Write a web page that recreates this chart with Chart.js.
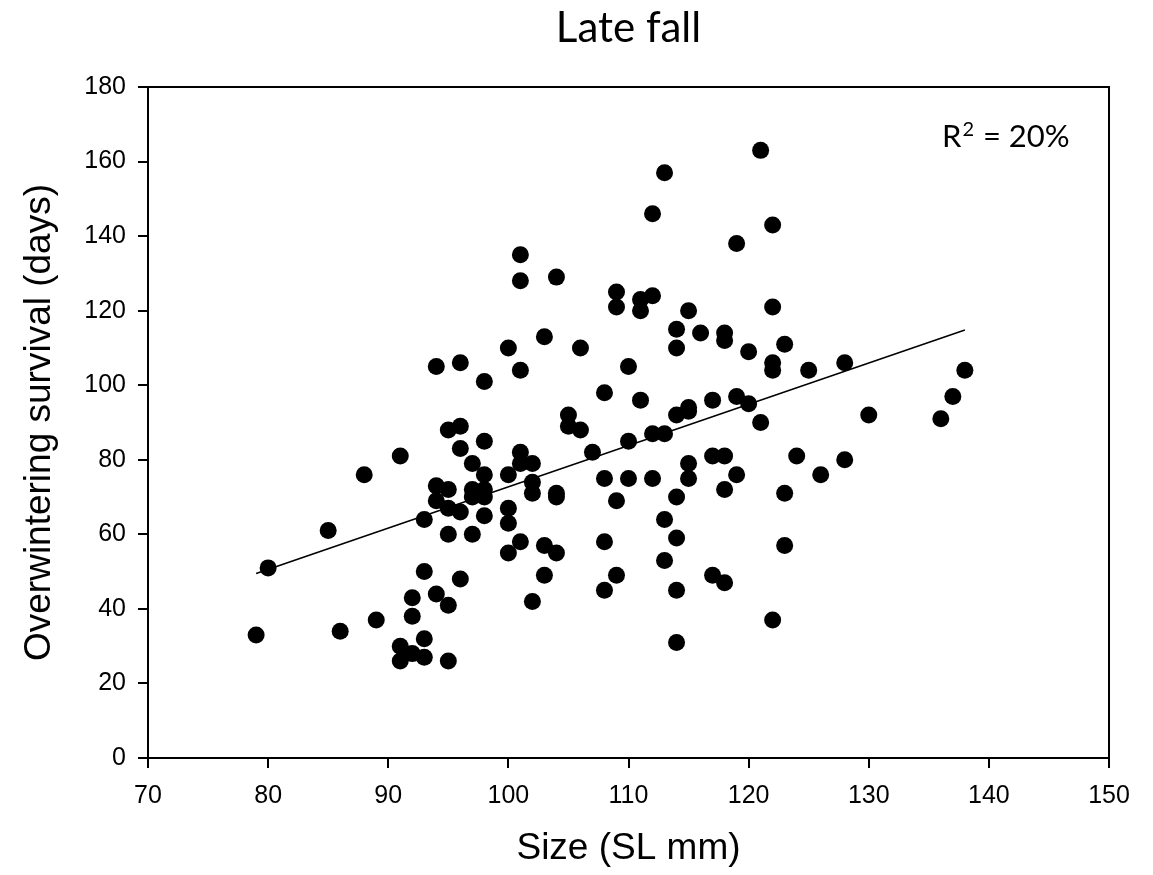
<!DOCTYPE html>
<html>
<head>
<meta charset="utf-8">
<script src="https://cdn.jsdelivr.net/npm/chart.js@4/dist/chart.umd.min.js"></script>
<style>
  html, body { margin: 0; padding: 0; background: #fff; }
  #wrap { width: 1153px; height: 875px; }
</style>
</head>
<body>
<div id="wrap"><canvas id="chartjs" width="1153" height="875"></canvas></div>
<script>
// fish size (SL mm) and overwintering survival (days)
const sizeMm = [
  79, 80, 85, 86, 88, 89, 91, 91, 91, 92, 92, 92, 93, 93, 93, 93,
  94, 94, 94, 94, 95, 95, 95, 95, 95, 95, 96, 96, 96, 96, 96,
  97, 97, 97, 97, 98, 98, 98, 98, 98, 98, 100, 100, 100, 100, 100,
  101, 101, 101, 101, 101, 101, 102, 102, 102, 102, 103, 103, 103,
  104, 104, 104, 104, 105, 105, 106, 106, 107, 108, 108, 108, 108,
  109, 109, 109, 109, 110, 110, 110, 111, 111, 111, 112, 112, 112, 112,
  113, 113, 113, 113, 114, 114, 114, 114, 114, 114, 114,
  115, 115, 115, 115, 115, 116, 117, 117, 117, 118, 118, 118, 118, 118,
  119, 119, 119, 120, 120, 121, 121, 122, 122, 122, 122, 122,
  123, 123, 123, 124, 125, 126, 128, 128, 130, 136, 137, 138
]
const survivalDays = [
  33, 51, 61, 34, 76, 37, 81, 30, 26, 43, 38, 28, 64, 50, 32, 27,
  105, 73, 69, 44, 88, 72, 67, 60, 41, 26, 106, 89, 83, 66, 48,
  79, 72, 70, 60, 101, 85, 76, 72, 70, 65, 110, 76, 67, 63, 55,
  135, 128, 104, 82, 79, 58, 79, 74, 71, 42, 113, 57, 49,
  129, 71, 70, 55, 92, 89, 110, 88, 82, 98, 75, 58, 45,
  125, 121, 69, 49, 105, 85, 75, 123, 120, 96, 146, 124, 87, 75,
  157, 87, 64, 53, 115, 110, 92, 70, 59, 45, 31,
  120, 94, 93, 79, 75, 114, 96, 81, 49, 114, 112, 81, 72, 47,
  138, 97, 76, 109, 95, 163, 90, 143, 121, 106, 104, 37,
  111, 71, 57, 81, 104, 76, 106, 80, 92, 91, 97, 104
]
// fitted line end points
const fitX = [79, 138]
const fitY = [49.5, 114.8]

const xTicks = [70, 80, 90, 100, 110, 120, 130, 140, 150]
const yTicks = [0, 20, 40, 60, 80, 100, 120, 140, 160, 180]

const titleText = 'Late fall'
const xTitle = 'Size (SL mm)'
const yTitle = 'Overwintering survival (days)'
const rSquared = '20%'

const points = sizeMm.map((x, i) => ({ x, y: survivalDays[i] }))
const fitLine = fitX.map((x, i) => ({ x, y: fitY[i] }))

const tickFont = { family: 'Liberation Sans, Arial, sans-serif', size: 25 }
const titleFont = { family: 'Liberation Sans, Arial, sans-serif', size: 37 }

const extras = {
  id: 'extras',
  afterDraw(chart) {
    const { ctx, chartArea: a } = chart
    ctx.save()
    // box on top and right
    ctx.strokeStyle = '#000'
    ctx.lineWidth = 2
    ctx.beginPath()
    ctx.moveTo(a.left, a.top)
    ctx.lineTo(a.right, a.top)
    ctx.lineTo(a.right, a.bottom)
    ctx.stroke()
    // title
    ctx.fillStyle = '#000'
    ctx.font = '42px Lato, "Open Sans", sans-serif'
    ctx.textAlign = 'center'
    ctx.textBaseline = 'alphabetic'
    ctx.fillText(titleText, (a.left + a.right) / 2, 42)
    // R^2 note
    ctx.textAlign = 'left'
    let x = a.right - 167, y = a.top + 60
    ctx.font = '31px Lato, "Open Sans", sans-serif'
    ctx.fillText('R', x, y)
    x += ctx.measureText('R').width + 1
    ctx.font = '20px Lato, "Open Sans", sans-serif'
    ctx.fillText('2', x, y - 11)
    x += ctx.measureText('2').width + 1
    ctx.font = '31px Lato, "Open Sans", sans-serif'
    ctx.fillText(' = ' + rSquared, x, y)
    ctx.restore()
  }
}

const ctx = document.getElementById('chartjs').getContext('2d')
new Chart(ctx, {
  type: 'scatter',
  data: {
    datasets: [{
      label: 'survival',
      data: points,
      backgroundColor: '#000',
      borderColor: '#000',
      pointRadius: 8.5,
      pointBorderWidth: 0,
      order: 1
    }, {
      type: 'line',
      label: 'fit',
      data: fitLine,
      borderColor: '#000',
      borderWidth: 1.5,
      pointRadius: 0,
      fill: false,
      order: 2
    }]
  },
  plugins: [extras],
  options: {
    responsive: false,
    animation: false,
    layout: { padding: { top: 87, right: 44, left: 0, bottom: 0 } },
    plugins: {
      legend: { display: false },
      tooltip: { enabled: false }
    },
    scales: {
      x: {
        type: 'linear',
        min: 70, max: 150,
        afterBuildTicks: s => { s.ticks = xTicks.map(v => ({ value: v })) },
        afterFit: s => { s.height = 117 },
        grid: { drawOnChartArea: false, drawTicks: true, tickLength: 10, color: '#000', lineWidth: 2 },
        border: { display: true, color: '#000', width: 2 },
        ticks: { color: '#000', font: tickFont, padding: 13 },
        title: { display: true, text: xTitle, color: '#000', font: titleFont, padding: { top: 10 } }
      },
      y: {
        type: 'linear',
        min: 0, max: 180,
        afterBuildTicks: s => { s.ticks = yTicks.map(v => ({ value: v })) },
        afterFit: s => { s.width = 148 },
        grid: { drawOnChartArea: false, drawTicks: true, tickLength: 10, color: '#000', lineWidth: 2 },
        border: { display: true, color: '#000', width: 2 },
        ticks: { color: '#000', font: tickFont, padding: 12 },
        title: { display: true, text: yTitle, color: '#000', font: titleFont, padding: { top: 18, bottom: 0 } }
      }
    }
  }
})
</script>
</body>
</html>
